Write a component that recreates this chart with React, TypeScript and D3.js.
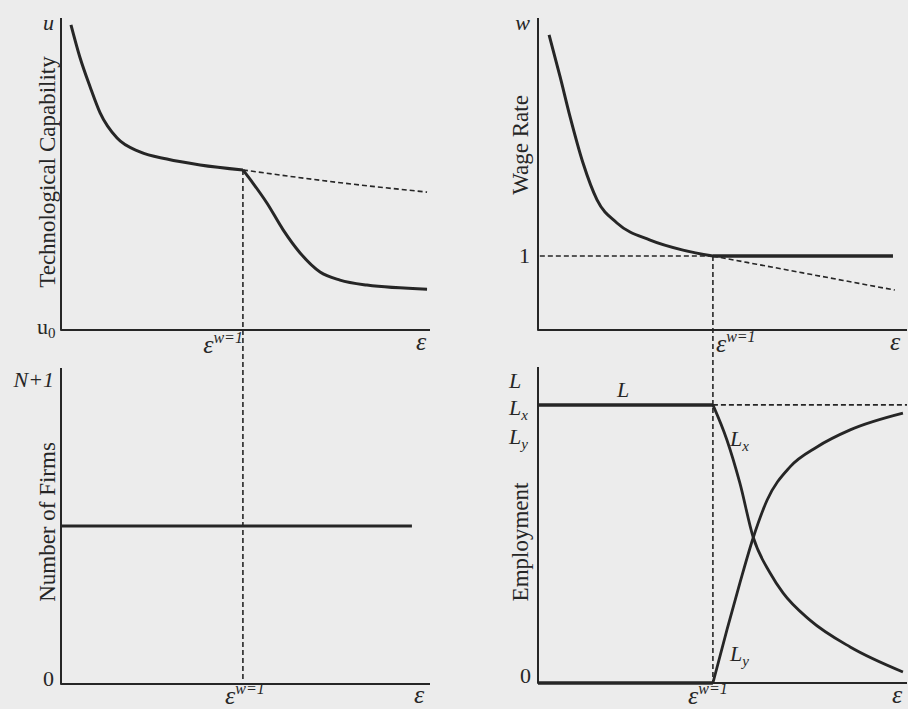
import React, { useEffect, useRef } from "react";
import * as d3 from "d3";

const W = 908,
  H = 709;
const ink = "#262626";
const font = "'Liberation Serif', 'Times New Roman', serif";

// epsilon where the wage first hits 1 (left column / right column)
const epsW1Left = 4.93;
const epsW1Right = 4.74;

// top left: technological capability
const techBefore = [
  [0.27, 9.78], [0.51, 8.75], [0.79, 7.79], [1.06, 6.96], [1.52, 6.15],
  [2.14, 5.71], [2.87, 5.48], [3.77, 5.29], [4.93, 5.13],
];
const techAfter = [
  [4.93, 5.13], [5.2, 4.71], [5.58, 4.07], [6.02, 3.21], [6.48, 2.47],
  [7.02, 1.86], [7.56, 1.6], [8.29, 1.44], [9.92, 1.31],
];
const techNoFloor = [[4.93, 5.13], [7.43, 4.74], [9.92, 4.42]];

// top right: wage rate
const wageOne = 2.37;
const wage = [
  [0.3, 9.46], [0.6, 8.11], [0.87, 6.83], [1.22, 5.35], [1.6, 4.17],
  [2.14, 3.43], [3.04, 2.88], [3.93, 2.56], [4.74, 2.37],
];
const wageFloor = [[4.74, 2.37], [9.62, 2.37]];
const wageNoFloor = [[4.74, 2.37], [7.18, 1.83], [9.67, 1.28]];

// bottom left: number of firms
const firms = [[0, 5], [9.51, 5]];

// bottom right: employment
const labourL = 8.8;
const empBefore = [[0, labourL], [4.74, labourL]];
const empZero = [[0, 0], [4.74, 0]];
const lx = [
  [4.74, 8.8], [5.12, 7.69], [5.47, 6.33], [5.83, 4.62], [6.29, 3.48],
  [6.64, 2.85], [7.37, 1.99], [8.46, 1.14], [9.89, 0.35],
];
const ly = [
  [4.74, 0], [5.12, 1.68], [5.47, 3.16], [5.83, 4.59], [6.21, 5.79],
  [6.83, 6.84], [7.56, 7.47], [8.46, 8.01], [9.89, 8.54],
];

const axisTitles = ["Technological Capability", "Wage Rate", "Number of Firms", "Employment"];

const panels = [
  { left: 61, right: 430, top: 18, bottom: 330 },
  { left: 538, right: 907, top: 18, bottom: 330 },
  { left: 61, right: 430, top: 368, bottom: 684 },
  { left: 538, right: 907, top: 367, bottom: 683 },
];

type Part = { t: string; size?: number; dy?: number; italic?: boolean };

export default function App() {
  const ref = useRef<SVGSVGElement>(null);

  useEffect(() => {
    const svg = d3.select(ref.current);
    svg.selectAll("*").remove();
    svg.append("rect").attr("width", W).attr("height", H).attr("fill", "#ececec");

    const sc = panels.map((p) => ({
      x: d3.scaleLinear().domain([0, 10]).range([p.left, p.right]),
      y: d3.scaleLinear().domain([0, 10]).range([p.bottom, p.top]),
    }));
    const [tl, tr, bl, br] = sc;

    const draw = (s, data, width, dash = null, curve = d3.curveMonotoneX) => {
      const line = d3
        .line()
        .x((d) => s.x(d[0]))
        .y((d) => s.y(d[1]))
        .curve(curve);
      svg
        .append("path")
        .datum(data)
        .attr("fill", "none")
        .attr("stroke", ink)
        .attr("stroke-width", width)
        .attr("stroke-dasharray", dash)
        .attr("stroke-linejoin", "round")
        .attr("d", line);
    };

    const text = (x, y, parts: Part[], anchor = "start", rotate = 0) => {
      const el = svg
        .append("text")
        .attr("transform", `translate(${x},${y}) rotate(${rotate})`)
        .attr("text-anchor", anchor)
        .attr("font-family", font)
        .attr("fill", ink);
      parts.forEach((p) =>
        el
          .append("tspan")
          .text(p.t)
          .attr("font-size", p.size ?? 22)
          .attr("font-style", p.italic ? "italic" : "normal")
          .attr("dy", p.dy ?? 0)
      );
    };

    // axes
    sc.forEach((s) => draw(s, [[0, 10], [0, 0], [10, 0]], 2, null, d3.curveLinear));

    // dashed guides
    draw(tl, techNoFloor, 1.6, "5,3");
    draw(tr, [[0.05, wageOne], [epsW1Right, wageOne]], 1.6, "5,3");
    draw(tr, wageNoFloor, 1.6, "5,3");
    draw(br, [[epsW1Right, labourL], [10, labourL]], 1.6, "5,3");
    svg
      .append("line")
      .attr("x1", tl.x(epsW1Left))
      .attr("x2", tl.x(epsW1Left))
      .attr("y1", tl.y(5.13))
      .attr("y2", bl.y(0.12))
      .attr("stroke", ink)
      .attr("stroke-width", 1.6)
      .attr("stroke-dasharray", "5,3");
    svg
      .append("line")
      .attr("x1", tr.x(epsW1Right))
      .attr("x2", tr.x(epsW1Right))
      .attr("y1", tr.y(wageOne))
      .attr("y2", br.y(0))
      .attr("stroke", ink)
      .attr("stroke-width", 1.6)
      .attr("stroke-dasharray", "5,3");

    // curves
    draw(tl, techBefore, 3);
    draw(tl, techAfter, 3);
    draw(tr, wage, 3);
    draw(tr, wageFloor, 3.5);
    draw(bl, firms, 3);
    draw(br, empBefore, 3.5);
    draw(br, empZero, 3.5);
    draw(br, lx, 2.8);
    draw(br, ly, 2.8);

    // axis titles
    text(55, 172, [{ t: axisTitles[0], size: 23 }], "middle", -90);
    text(528, 145, [{ t: axisTitles[1], size: 23 }], "middle", -90);
    text(55, 522, [{ t: axisTitles[2], size: 23 }], "middle", -90);
    text(528, 542, [{ t: axisTitles[3], size: 23 }], "middle", -90);

    // y tick labels
    text(54, tl.y(10) + 12, [{ t: "u", italic: true }], "end");
    text(37, tl.y(0) + 4, [{ t: "u" }, { t: "0", size: 15, dy: 4 }]);
    text(530, tr.y(10) + 12, [{ t: "w", italic: true }], "end");
    text(530, tr.y(wageOne) + 7, [{ t: "1" }], "end");
    text(54, bl.y(10) + 19, [{ t: "N+1", italic: true }], "end");
    text(54, bl.y(0) + 2, [{ t: "0" }], "end");
    text(509, br.y(10) + 21, [{ t: "L", italic: true }]);
    text(509, br.y(labourL) + 10, [{ t: "L", italic: true }, { t: "x", italic: true, size: 15, dy: 5 }]);
    text(509, br.y(labourL) + 39, [{ t: "L", italic: true }, { t: "y", italic: true, size: 15, dy: 5 }]);
    text(531, br.y(0), [{ t: "0" }], "end");

    // curve labels
    text(br.x(2.14), br.y(labourL) - 8, [{ t: "L", italic: true }]);
    text(br.x(5.2), br.y(7.5), [{ t: "L", italic: true }, { t: "x", italic: true, size: 15, dy: 5 }]);
    text(br.x(5.2), br.y(0.7), [{ t: "L", italic: true }, { t: "y", italic: true, size: 15, dy: 5 }]);

    // x labels
    const epsW1 = (): Part[] => [
      { t: "ε", italic: true, size: 26 },
      { t: "w=1", italic: true, size: 16, dy: -10 },
    ];
    text(tl.x(epsW1Left), tl.y(0) + 23, epsW1(), "end");
    text(tr.x(epsW1Right) + 3, tr.y(0) + 22, epsW1());
    text(bl.x(epsW1Left) + 2, bl.y(0) + 20, epsW1(), "middle");
    text(br.x(epsW1Right) - 5, br.y(0) + 21, epsW1(), "middle");
    text(tl.x(10) - 9, tl.y(0) + 20, [{ t: "ε", italic: true, size: 26 }], "middle");
    text(tr.x(10) - 12, tr.y(0) + 20, [{ t: "ε", italic: true, size: 26 }], "middle");
    text(bl.x(10) - 11, bl.y(0) + 19, [{ t: "ε", italic: true, size: 26 }], "middle");
    text(br.x(10) - 10, br.y(0) + 20, [{ t: "ε", italic: true, size: 26 }], "middle");
  }, []);

  return (
    <svg
      ref={ref}
      width={W}
      height={H}
      style={{ position: "absolute", left: 0, top: 0 }}
    />
  );
}
